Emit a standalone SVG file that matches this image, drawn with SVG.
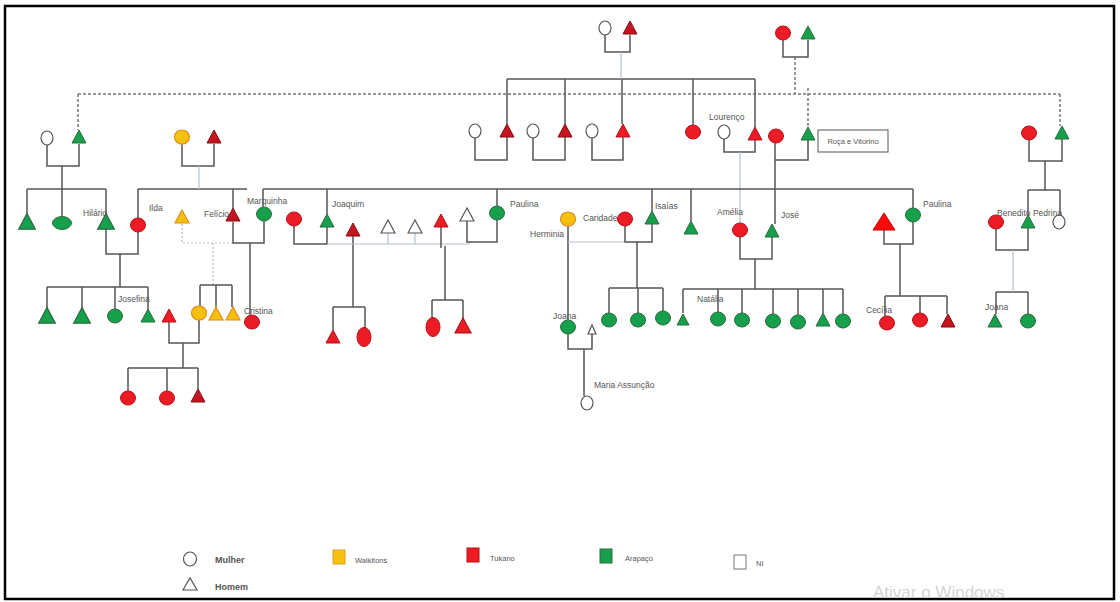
<svg xmlns="http://www.w3.org/2000/svg" xmlns:xlink="http://www.w3.org/1999/xlink" width="1120" height="602" viewBox="0 0 1120 602">
<style>
.ln{stroke:#555;stroke-width:1.5;fill:none}
.lt{stroke:#b4c0cc;stroke-width:1.2;fill:none}
.ld{stroke:#b4c0cc;stroke-width:1.2;fill:none;stroke-dasharray:2 2}
.dt{stroke:#777;stroke-width:1.5;fill:none;stroke-dasharray:3 2}
.g{fill:#16a04c;stroke:#2b6b3f;stroke-width:1}
.r{fill:#ec1b24;stroke:#b3121b;stroke-width:1}
.dr{fill:#c8141f;stroke:#7e0f16;stroke-width:1}
.y{fill:#f5c10e;stroke:#e08d1a;stroke-width:1.2}
.w{fill:#fff;stroke:#555;stroke-width:1.2}
.lb{font-family:"Liberation Sans",Arial,sans-serif;font-size:8.5px;fill:#555}
.lg{font-family:"Liberation Sans",Arial,sans-serif;font-size:9px;font-weight:bold;fill:#555}
.ls{font-family:"Liberation Sans",Arial,sans-serif;font-size:7.5px;fill:#555}
</style>
<defs>
<ellipse id="C" rx="7.5" ry="7"/>
<ellipse id="W" rx="6" ry="7"/>
<polygon id="T" points="-7,6 0,-7 7,6"/>
</defs>
<rect x="5" y="6" width="1109" height="593" fill="#fff" stroke="#000" stroke-width="2.5"/>

<g id="connectors">
<path class="dt" d="M78,94H1060M78,94V130M1060,94V126M795,57V94M808,88V127"/>
<path class="ln" d="M605,35V52H630V35M507,79H755M507,79V124M565,79V124M622,79V124M693,79V125M755,79V127"/>
<path class="lt" d="M621,52V79"/>
<path class="ln" d="M475,138V160H507V137M533,138V160H565V137M592,138V160H623V137M724,139V152H755V140"/>
<path class="lt" d="M740,152V223"/>
<path class="ln" d="M775,143V224M775,160H808V140M783,40V57H808V40"/>
<path class="ln" d="M47,145V166H79V144M62,166V189M27,189H106M27,189V215M62,189V216M106,189V215"/>
<path class="ln" d="M182,144V166H214V144M138,189H247M138,189V218M233,189V208"/>
<path class="lt" d="M199,166V189"/>
<path class="ln" d="M263,189H913M263,189V207M327,189V214M497,189V206M652,189V211M691,189V221M913,189V208"/>
<path class="ln" d="M106,228V254H138V232M120,254V287M47,287H148M47,287V309M82,287V309M115,287V309M148,287V309"/>
<path class="ld" d="M182,224V243H233M213,243V285"/>
<path class="ln" d="M233,222V243H264V221M250,243V315M200,285H232M200,285V306M216,285V307M232,285V307"/>
<path class="ln" d="M169,322V343H199V320M183,343V368M128,368H198M128,368V391M167,368V391M198,368V389"/>
<path class="ln" d="M294,226V244H327V227M353,236V307M333,307H365M333,307V330M365,307V328"/>
<path class="lt" d="M327,244H470M388,233V244M415,233V244"/>
<path class="ln" d="M441,227V248M445,246V300M432,300H463M432,300V318M463,300V319M467,221V242H497V220"/>
<path class="ln" d="M568,226V320M568,334V349H592V333M584,349V396"/>
<path class="lt" d="M568,242H625"/>
<path class="ln" d="M625,226V242H652V224M637,242V288M609,288H663M609,288V313M638,288V313M663,288V311"/>
<path class="ln" d="M740,237V259H772V237M755,259V289M683,289H843M683,289V313M718,289V312M742,289V313M773,289V314M798,289V315M823,289V313M843,289V314"/>
<path class="ln" d="M884,230V244H913V222M900,244V296M885,296H947M885,296V316M920,296V313M947,296V314"/>
<path class="ln" d="M1029,140V161H1062V139M1045,161V190M1028,190H1060M1028,190V215M1060,190V215M996,229V250H1028V228M996,292H1028M996,292V314M1028,292V314"/>
<path class="lt" d="M1013,250V292"/>
</g>

<g id="n1"><use xlink:href="#W" x="605" y="28" class="w"/></g>
<g id="n2"><use xlink:href="#T" x="630" y="28" class="dr"/></g>
<g id="n3"><use xlink:href="#C" x="783" y="33" class="r"/></g>
<g id="n4"><use xlink:href="#T" x="808" y="33" class="g"/></g>
<g id="n5"><use xlink:href="#W" x="47" y="138" class="w"/></g>
<g id="n6"><use xlink:href="#T" x="79" y="137" class="g"/></g>
<g id="n7"><use xlink:href="#C" x="182" y="137" class="y"/></g>
<g id="n8"><use xlink:href="#T" x="214" y="137" class="dr"/></g>
<g id="n9"><use xlink:href="#W" x="475" y="131" class="w"/></g>
<g id="n10"><use xlink:href="#T" x="507" y="131" class="dr"/></g>
<g id="n11"><use xlink:href="#W" x="533" y="131" class="w"/></g>
<g id="n12"><use xlink:href="#T" x="565" y="131" class="dr"/></g>
<g id="n13"><use xlink:href="#W" x="592" y="131" class="w"/></g>
<g id="n14"><use xlink:href="#T" x="623" y="131" class="r"/></g>
<g id="n15"><use xlink:href="#C" x="693" y="132" class="r"/></g>
<g id="n16"><use xlink:href="#W" x="724" y="132" class="w"/><text class="lb" x="709" y="120">Lourenço</text></g>
<g id="n17"><use xlink:href="#T" x="755" y="134" class="r"/></g>
<g id="n18"><use xlink:href="#C" x="776" y="136" class="r"/></g>
<g id="n19"><use xlink:href="#T" x="808" y="134" class="g"/></g>
<g id="box"><rect x="818" y="130" width="70" height="22" fill="#fff" stroke="#555" stroke-width="1"/><text class="ls" x="853" y="143.5" text-anchor="middle" font-size="6">Roça e Vitorino</text></g>
<g id="n20"><use xlink:href="#C" x="1029" y="133" class="r"/></g>
<g id="n21"><use xlink:href="#T" x="1062" y="133" class="g"/></g>

<g id="n22"><use xlink:href="#T" x="27" y="222" class="g" transform="translate(27 222) scale(1.2) translate(-27 -222)"/></g>
<g id="n23"><ellipse cx="62" cy="223" rx="9.5" ry="6.5" class="g"/></g>
<g id="n24"><use xlink:href="#T" x="106" y="222" class="g" transform="translate(106 222) scale(1.2) translate(-106 -222)"/><text class="lb" x="83" y="216">Hilário</text></g>
<g id="n25"><use xlink:href="#C" x="138" y="225" class="r"/></g>
<g id="n26"><use xlink:href="#T" x="182" y="217" class="y"/><text class="lb" x="149" y="211">Ilda</text></g>
<g id="n27"><use xlink:href="#T" x="233" y="215" class="dr"/><text class="lb" x="204" y="217">Felício</text></g>
<g id="n28"><use xlink:href="#C" x="264" y="214" class="g"/><text class="lb" x="247" y="204">Marquinha</text></g>
<g id="n29"><use xlink:href="#C" x="294" y="219" class="r"/></g>
<g id="n30"><use xlink:href="#T" x="327" y="221" class="g"/><text class="lb" x="332" y="207">Joaquim</text></g>
<g id="n31"><use xlink:href="#T" x="353" y="230" class="dr"/></g>
<g id="n32"><use xlink:href="#T" x="388" y="227" class="w"/></g>
<g id="n33"><use xlink:href="#T" x="415" y="227" class="w"/></g>
<g id="n34"><use xlink:href="#T" x="441" y="221" class="r"/></g>
<g id="n35"><use xlink:href="#T" x="467" y="215" class="w"/></g>
<g id="n36"><use xlink:href="#C" x="497" y="213" class="g"/><text class="lb" x="510" y="207">Paulina</text></g>
<g id="n37"><use xlink:href="#C" x="568" y="219" class="y"/><text class="lb" x="530" y="237">Herminia</text></g>
<g id="n38"><use xlink:href="#C" x="625" y="219" class="r"/><text class="lb" x="583" y="221">Caridade</text></g>
<g id="n39"><use xlink:href="#T" x="652" y="218" class="g"/><text class="lb" x="655" y="209">Isaías</text></g>
<g id="n40"><use xlink:href="#T" x="691" y="228" class="g"/></g>
<g id="n41"><use xlink:href="#C" x="740" y="230" class="r"/><text class="lb" x="717" y="215">Amélia</text></g>
<g id="n42"><use xlink:href="#T" x="772" y="231" class="g"/><text class="lb" x="781" y="218">José</text></g>
<g id="n43"><polygon points="873,230 884,213 895,230" fill="#ff0a0a" stroke="#c00" stroke-width="1"/></g>
<g id="n44"><use xlink:href="#C" x="913" y="215" class="g"/><text class="lb" x="923" y="207">Paulina</text></g>
<g id="n45"><use xlink:href="#C" x="996" y="222" class="r"/></g>
<g id="n46"><use xlink:href="#T" x="1028" y="222" class="g"/></g>
<g id="n47"><use xlink:href="#W" x="1059" y="222" class="w"/><text class="lb" x="997" y="216">Benedito Pedrina</text></g>

<g id="n48"><use xlink:href="#T" x="47" y="316" class="g" transform="translate(47 316) scale(1.2) translate(-47 -316)"/></g>
<g id="n49"><use xlink:href="#T" x="82" y="316" class="g" transform="translate(82 316) scale(1.2) translate(-82 -316)"/></g>
<g id="n50"><use xlink:href="#C" x="115" y="316" class="g"/></g>
<g id="n51"><use xlink:href="#T" x="148" y="316" class="g"/><text class="lb" x="118" y="302">Josefina</text></g>
<g id="n52"><use xlink:href="#T" x="169" y="316" class="r"/></g>
<g id="n53"><use xlink:href="#C" x="199" y="313" class="y"/></g>
<g id="n54"><use xlink:href="#T" x="216" y="314" class="y"/></g>
<g id="n55"><use xlink:href="#T" x="233" y="314" class="y"/></g>
<g id="n56"><use xlink:href="#C" x="252" y="322" class="r"/><text class="lb" x="244" y="314">Cristina</text></g>
<g id="n57"><use xlink:href="#T" x="333" y="337" class="r"/></g>
<g id="n58"><ellipse cx="364" cy="337" rx="7" ry="9.5" class="r"/></g>
<g id="n59"><ellipse cx="433" cy="327" rx="7" ry="9.5" class="r"/></g>
<g id="n60"><use xlink:href="#T" x="463" y="326" class="r" transform="translate(463 326) scale(1.15) translate(-463 -326)"/></g>
<g id="n61"><use xlink:href="#C" x="568" y="327" class="g"/><text class="lb" x="553" y="319">Joana</text></g>
<g id="n62"><polygon points="588,334 592,325 596,334" class="w"/></g>
<g id="n63"><use xlink:href="#C" x="609" y="320" class="g"/></g>
<g id="n64"><use xlink:href="#C" x="638" y="320" class="g"/></g>
<g id="n65"><use xlink:href="#C" x="663" y="318" class="g"/></g>
<g id="n66"><polygon points="677,325 683,314 689,325" class="g"/></g>
<g id="n67"><use xlink:href="#C" x="718" y="319" class="g"/><text class="lb" x="697" y="302">Natália</text></g>
<g id="n68"><use xlink:href="#C" x="742" y="320" class="g"/></g>
<g id="n69"><use xlink:href="#C" x="773" y="321" class="g"/></g>
<g id="n70"><use xlink:href="#C" x="798" y="322" class="g"/></g>
<g id="n71"><use xlink:href="#T" x="823" y="320" class="g"/></g>
<g id="n72"><use xlink:href="#C" x="843" y="321" class="g"/></g>
<g id="n73"><use xlink:href="#C" x="887" y="323" class="r"/><text class="lb" x="866" y="313">Cecília</text></g>
<g id="n74"><use xlink:href="#C" x="920" y="320" class="r"/></g>
<g id="n75"><use xlink:href="#T" x="948" y="321" class="dr"/></g>
<g id="n76"><use xlink:href="#T" x="995" y="321" class="g"/><text class="lb" x="985" y="310">Joana</text></g>
<g id="n77"><use xlink:href="#C" x="1028" y="321" class="g"/></g>

<g id="n78"><use xlink:href="#C" x="128" y="398" class="r"/></g>
<g id="n79"><use xlink:href="#C" x="167" y="398" class="r"/></g>
<g id="n80"><use xlink:href="#T" x="198" y="396" class="dr"/></g>
<g id="n81"><use xlink:href="#W" x="587" y="403" class="w"/><text class="lb" x="594" y="388">Maria Assunção</text></g>

<g id="legend">
<ellipse cx="190" cy="559" rx="6.5" ry="7" class="w"/>
<text class="lg" x="215" y="563">Mulher</text>
<polygon points="183,590 190,578 197,590" class="w"/>
<text class="lg" x="215" y="590">Homem</text>
<rect x="333" y="550" width="12" height="14" fill="#f5c10e" stroke="#e0a020"/>
<text class="ls" x="355" y="563">Walkitons</text>
<rect x="467" y="548" width="12" height="14" fill="#ec1b24" stroke="#b3121b"/>
<text class="ls" x="490" y="561">Tukano</text>
<rect x="600" y="549" width="12" height="14" fill="#16a04c" stroke="#2b6b3f"/>
<text class="ls" x="625" y="561">Arapaço</text>
<rect x="734" y="555" width="12" height="14" fill="#fff" stroke="#777"/>
<text class="ls" x="756" y="566">NI</text>
</g>
<text x="873" y="598" font-family="'Liberation Sans',Arial,sans-serif" font-size="17" fill="#d4d4d4">Ativar o Windows</text>
</svg>
